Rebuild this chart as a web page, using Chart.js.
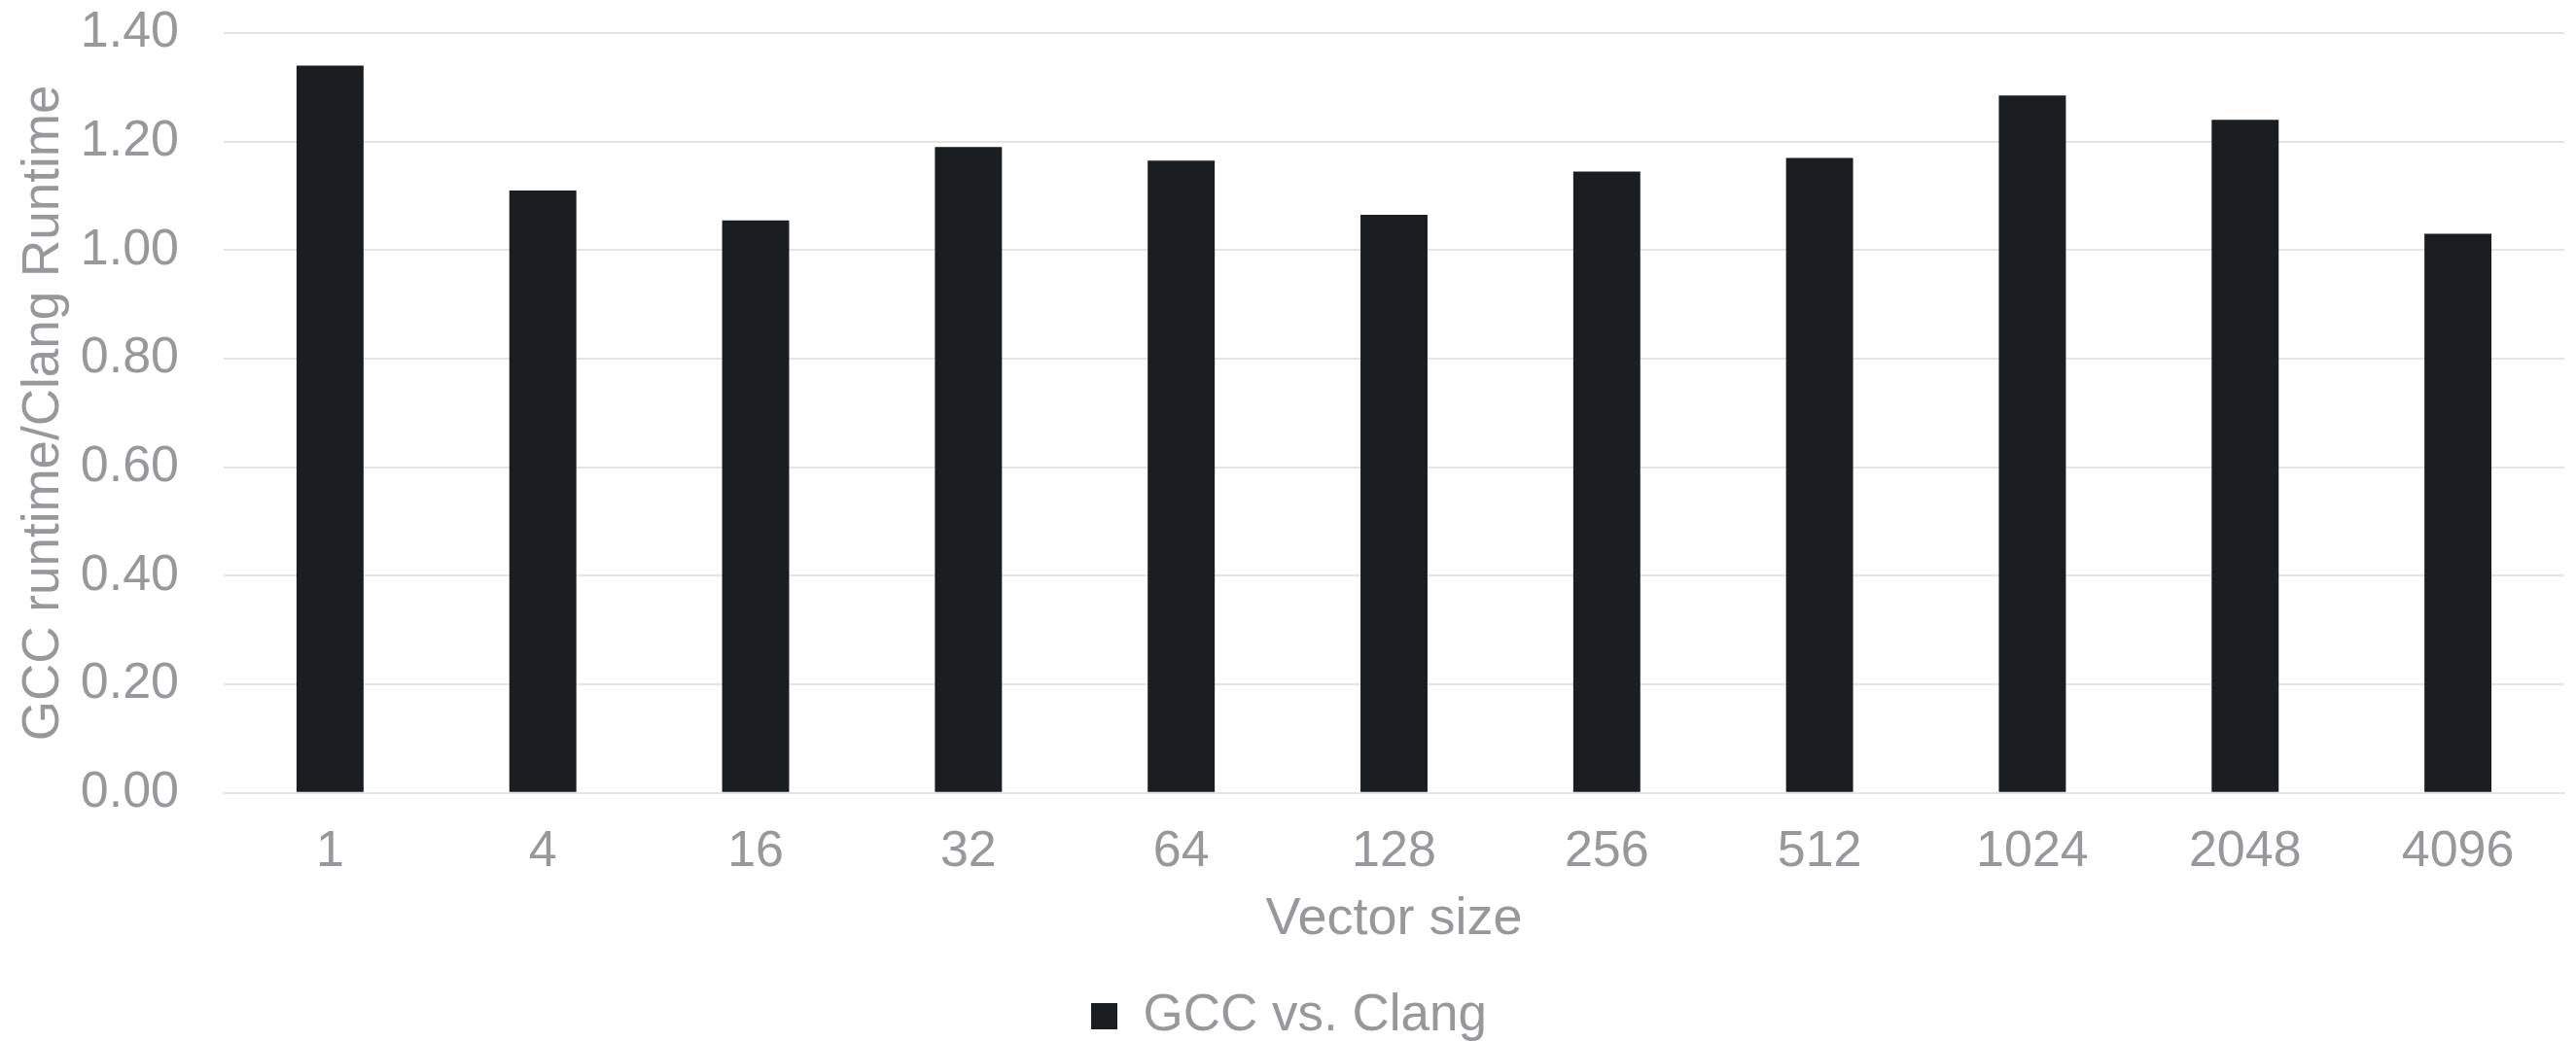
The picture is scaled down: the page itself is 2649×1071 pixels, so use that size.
<!DOCTYPE html>
<html>
<head>
<meta charset="utf-8">
<script src="https://cdn.jsdelivr.net/npm/chart.js@4.4.1/dist/chart.umd.min.js"></script>
<style>
  body { margin: 0; background: #ffffff; }
  canvas { display: block; }
</style>
</head>
<body>
<canvas id="runtimeChart" width="2649" height="1071"></canvas>
<script>
const vectorSizes = ['1', '4', '16', '32', '64', '128', '256', '512', '1024', '2048', '4096'];
const runtimeRatio = [1.34, 1.11, 1.055, 1.19, 1.165, 1.065, 1.145, 1.17, 1.285, 1.24, 1.03];
const seriesName = 'GCC vs. Clang';

const textGray = '#98989c';
const gridGray = '#e4e4e4';
const barColor = '#1b1e21';
const fontFamily = '"Liberation Sans", Arial, sans-serif';

Chart.defaults.font.family = fontFamily;
Chart.defaults.font.size = 52;
Chart.defaults.color = textGray;

const initRuntimeChart = () => {
  const ctx = document.getElementById('runtimeChart');

  new Chart(ctx, {
    type: 'bar',
    data: {
      labels: vectorSizes,
      datasets: [
        {
          label: seriesName,
          data: runtimeRatio,
          backgroundColor: barColor,
          barPercentage: 0.315,
          categoryPercentage: 1.0,
        },
      ],
    },
    options: {
      responsive: false,
      animation: false,
      layout: {
        padding: { top: 0, right: 12, left: 14, bottom: -11 },
      },
      plugins: {
        tooltip: { enabled: false },
        legend: {
          position: 'bottom',
          labels: {
            boxWidth: 27,
            boxHeight: 27,
            color: textGray,
            font: { size: 53 },
            padding: 3,
          },
        },
      },
      scales: {
        x: {
          grid: { display: false, drawTicks: false },
          border: { display: true, color: gridGray, width: 2 },
          ticks: { color: textGray, padding: 30, font: { size: 52 } },
          title: {
            display: true,
            text: 'Vector size',
            color: textGray,
            font: { size: 54 },
            padding: { top: -24, bottom: 37 },
          },
        },
        y: {
          min: 0,
          max: 1.4,
          grid: { color: gridGray, lineWidth: 2, drawTicks: false },
          border: { display: false },
          ticks: {
            stepSize: 0.2,
            padding: 46,
            color: textGray,
            font: { size: 52 },
            callback: (value) => value.toFixed(2),
          },
          title: {
            display: true,
            text: 'GCC runtime/Clang Runtime',
            color: textGray,
            font: { size: 53 },
            padding: { top: 0, bottom: 4 },
          },
          afterFit: (scale) => {
            // fixed axis width and top room so the plot area sits where we want it
            scale.width = 216;
            scale.paddingTop = 34;
          },
        },
      },
    },
  });
};

initRuntimeChart();
</script>
</body>
</html>
